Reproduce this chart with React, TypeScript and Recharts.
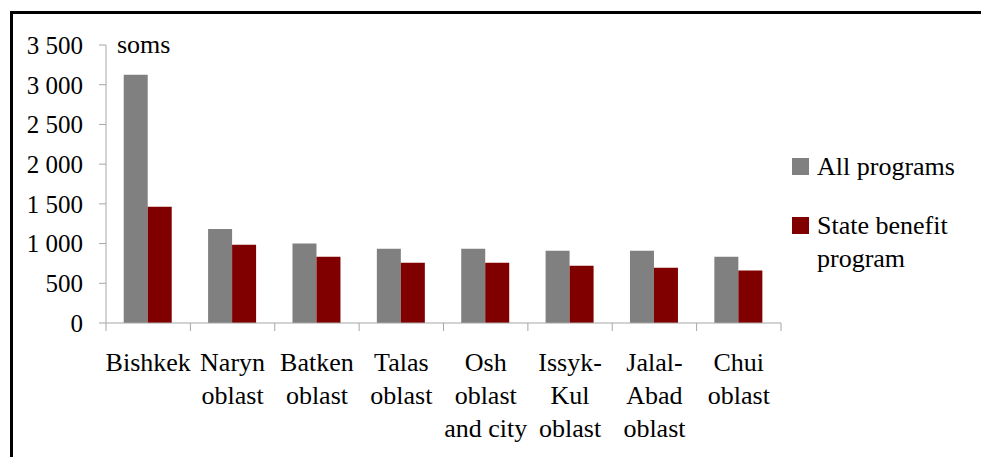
import React from "react";
import { BarChart, Bar, XAxis, YAxis, Legend } from "recharts";

const regions = [
  "Bishkek",
  "Naryn\noblast",
  "Batken\noblast",
  "Talas\noblast",
  "Osh\noblast\nand city",
  "Issyk-\nKul\noblast",
  "Jalal-\nAbad\noblast",
  "Chui\noblast",
];
const allPrograms = [3125, 1185, 1000, 935, 935, 910, 910, 835];
const stateBenefit = [1465, 985, 835, 760, 760, 720, 695, 660];
const yTicks = [0, 500, 1000, 1500, 2000, 2500, 3000, 3500];

const data = regions.map((region, i) => ({
  region,
  all: allPrograms[i],
  state: stateBenefit[i],
}));

const W = 981;
const H = 457;
const Y_W = 106;
const X_H = 134;
const M = { top: 45, right: 200, bottom: 0, left: 0 };
const bandW = (W - M.left - M.right - Y_W) / regions.length;
const FONT = '"Liberation Serif", "Times New Roman", serif';
const AXIS = "#a6a6a6";

const fmt = (v: number) =>
  v >= 1000 ? `${Math.floor(v / 1000)} ${String(v % 1000).padStart(3, "0")}` : String(v);

const CategoryTick = (props: any) => {
  const { x, y, payload, index } = props;
  const lines = String(payload.value).split("\n");
  const left = x - bandW / 2;
  return (
    <g>
      <line x1={left} x2={left} y1={y} y2={y + 8} stroke={AXIS} />
      {index === regions.length - 1 && (
        <line x1={left + bandW} x2={left + bandW} y1={y} y2={y + 8} stroke={AXIS} />
      )}
      <text x={x} y={y + 48} textAnchor="middle" fontSize={26} fontFamily={FONT} fill="#000">
        {lines.map((l, i) => (
          <tspan key={i} x={x} dy={i === 0 ? 0 : 33}>
            {l}
          </tspan>
        ))}
      </text>
    </g>
  );
};

const renderLegend = (props: any) => (
  <div style={{ position: "relative", width: 170, height: 130, fontFamily: FONT, fontSize: 26, color: "#000" }}>
    {(props.payload || []).map((p: any, i: number) => (
      <div key={i} style={{ position: "absolute", left: 0, top: i * 59, display: "flex", alignItems: "flex-start" }}>
        <span style={{ width: 17, height: 17, marginTop: 8, background: p.color, flex: "none" }} />
        <span style={{ marginLeft: 8, lineHeight: "33px", width: 145 }}>{p.value}</span>
      </div>
    ))}
  </div>
);

export default function App() {
  return (
    <div style={{ position: "absolute", left: 0, top: 0, width: W, height: H, overflow: "hidden", background: "#fff" }}>
      <div
        style={{
          position: "absolute",
          left: 10,
          top: 11,
          width: 2000,
          height: 1000,
          borderTop: "3px solid #000",
          borderLeft: "3px solid #000",
        }}
      />
      <div style={{ position: "absolute", left: 0, top: 0 }}>
        <BarChart width={W} height={H} data={data} margin={M} barCategoryGap="21%" barGap={0}>
          <XAxis
            dataKey="region"
            height={X_H}
            interval={0}
            tickLine={false}
            tickSize={0}
            tickMargin={0}
            axisLine={{ stroke: AXIS }}
            tick={<CategoryTick />}
          />
          <YAxis
            domain={[0, 3500]}
            ticks={yTicks}
            interval={0}
            width={Y_W}
            tickSize={7}
            tickMargin={16}
            tickFormatter={fmt}
            axisLine={{ stroke: AXIS }}
            tickLine={{ stroke: AXIS }}
            tick={{ fontSize: 25, fill: "#000", fontFamily: FONT }}
          />
          <Legend
            layout="horizontal"
            verticalAlign="middle"
            align="center"
            content={renderLegend}
            wrapperStyle={{ left: 792, top: 150, width: 175, height: 130 }}
          />
          <Bar dataKey="all" name="All programs" fill="#808080" isAnimationActive={false} />
          <Bar dataKey="state" name="State benefit program" fill="#800000" isAnimationActive={false} />
        </BarChart>
      </div>
      <div
        style={{
          position: "absolute",
          left: 117,
          top: 32,
          fontFamily: FONT,
          fontSize: 26,
          lineHeight: "26px",
        }}
      >
        soms
      </div>
    </div>
  );
}
